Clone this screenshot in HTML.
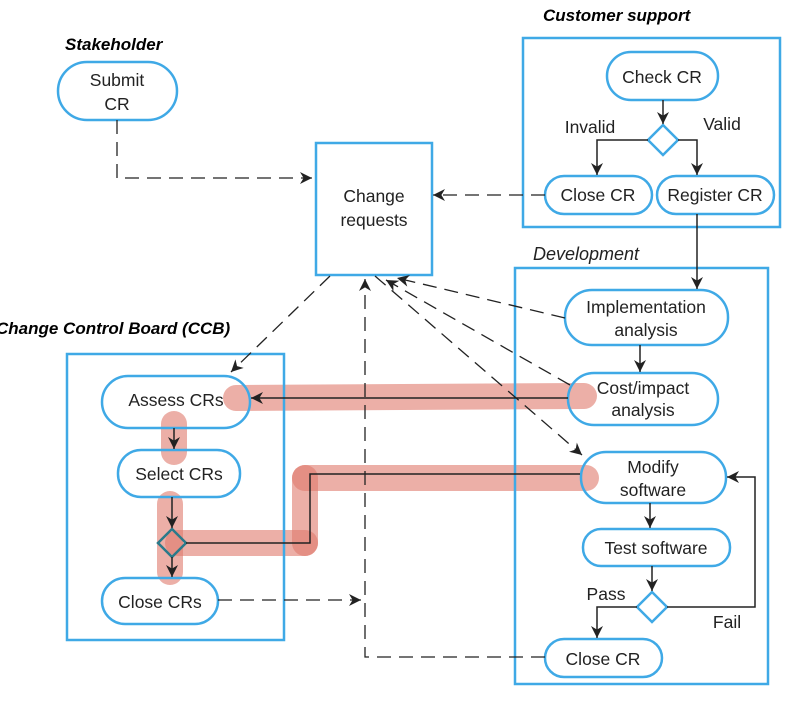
<!DOCTYPE html>
<html><head><meta charset="utf-8"><style>
html,body{margin:0;padding:0;background:#fff;}
svg{display:block;font-family:"Liberation Sans",sans-serif;}
</style></head><body>
<svg width="802" height="712" viewBox="0 0 802 712" xmlns="http://www.w3.org/2000/svg">
<defs>
<marker id="a" viewBox="0 0 10 10" refX="10" refY="5" markerWidth="12" markerHeight="12" orient="auto-start-reverse" markerUnits="userSpaceOnUse"><path d="M0,0 L10,5 L0,10 L3,5 z" fill="#222"/></marker>
</defs>
<g stroke="#e07a6c" stroke-opacity="0.6" stroke-width="26" stroke-linecap="round" fill="none">
<line x1="236" y1="398" x2="584" y2="396"/>
<line x1="174" y1="424" x2="174" y2="452"/>
<line x1="170" y1="504" x2="170" y2="572"/>
<line x1="178" y1="543" x2="305" y2="543"/>
<line x1="305" y1="543" x2="305" y2="478"/>
<line x1="305" y1="478" x2="586" y2="478"/>
</g>
<g fill="none" stroke="#3fa9e6" stroke-width="2.5">
<rect x="523" y="38" width="257" height="189"/>
<rect x="515" y="268" width="253" height="416"/>
<rect x="67" y="354" width="217" height="286"/>
<rect x="316" y="143" width="116" height="132"/>
<rect x="58" y="62" width="119" height="58" rx="29"/>
<rect x="607" y="52" width="111" height="48" rx="24"/>
<rect x="545" y="176" width="107" height="38" rx="19"/>
<rect x="657" y="176" width="117" height="38" rx="19"/>
<rect x="565" y="290" width="163" height="55" rx="27"/>
<rect x="568" y="373" width="150" height="52" rx="26"/>
<rect x="581" y="452" width="145" height="51" rx="25"/>
<rect x="583" y="529" width="147" height="37" rx="18"/>
<rect x="545" y="639" width="117" height="38" rx="19"/>
<rect x="102" y="376" width="148" height="52" rx="26"/>
<rect x="118" y="450" width="122" height="47" rx="23"/>
<rect x="102" y="578" width="116" height="46" rx="23"/>
<polygon points="663,125 678,140 663,155 648,140"/>
<polygon points="652,592 667,607 652,622 637,607"/>
</g>
<polygon points="172,529 186,543 172,557 158,543" fill="none" stroke="#2a7a8a" stroke-width="2.5"/>
<g fill="none" stroke="#222" stroke-width="1.5">
<line x1="663" y1="100" x2="663" y2="124" marker-end="url(#a)"/>
<polyline points="648,140 597,140 597,175" marker-end="url(#a)"/>
<polyline points="678,140 697,140 697,175" marker-end="url(#a)"/>
<line x1="697" y1="214" x2="697" y2="289" marker-end="url(#a)"/>
<line x1="640" y1="345" x2="640" y2="372" marker-end="url(#a)"/>
<line x1="650" y1="503" x2="650" y2="528" marker-end="url(#a)"/>
<line x1="652" y1="566" x2="652" y2="591" marker-end="url(#a)"/>
<polyline points="637,607 597,607 597,638" marker-end="url(#a)"/>
<polyline points="667,607 755,607 755,477 727,477" marker-end="url(#a)"/>
<line x1="568" y1="398" x2="251" y2="398" marker-end="url(#a)"/>
<line x1="174" y1="428" x2="174" y2="449" marker-end="url(#a)"/>
<line x1="172" y1="497" x2="172" y2="528" marker-end="url(#a)"/>
<line x1="172" y1="557" x2="172" y2="577" marker-end="url(#a)"/>
<polyline points="186,543 310,543 310,474 580,474"/>
</g>
<g fill="none" stroke="#222" stroke-width="1.3" stroke-dasharray="14,8">
<polyline points="117,120 117,178 312,178" marker-end="url(#a)"/>
<line x1="545" y1="195" x2="433" y2="195" marker-end="url(#a)"/>
<line x1="565" y1="318" x2="397" y2="278" marker-end="url(#a)"/>
<line x1="570" y1="385" x2="386" y2="280" marker-end="url(#a)"/>
<line x1="375" y1="276" x2="582" y2="455" marker-end="url(#a)"/>
<line x1="330" y1="276" x2="231" y2="372" marker-end="url(#a)"/>
<polyline points="545,657 365,657 365,279" marker-end="url(#a)"/>
<line x1="218" y1="600" x2="361" y2="600" marker-end="url(#a)"/>
</g>
<g font-weight="bold" font-style="italic" font-size="17" fill="#000">
<text x="65" y="50">Stakeholder</text>
<text x="543" y="21">Customer support</text>
<text x="-4" y="334">Change Control Board (CCB)</text>
</g>
<text x="533" y="260" font-style="italic" font-size="18" fill="#222">Development</text>
<g font-size="17.5" fill="#222" text-anchor="middle">
<text x="117" y="86">Submit</text><text x="117" y="110">CR</text>
<text x="374" y="202">Change</text><text x="374" y="226">requests</text>
<text x="662" y="83">Check CR</text>
<text x="598" y="201">Close CR</text>
<text x="715" y="201">Register CR</text>
<text x="646" y="313">Implementation</text><text x="646" y="336">analysis</text>
<text x="643" y="394">Cost/impact</text><text x="643" y="416">analysis</text>
<text x="653" y="473">Modify</text><text x="653" y="496">software</text>
<text x="656" y="554">Test software</text>
<text x="603" y="665">Close CR</text>
<text x="176" y="406">Assess CRs</text>
<text x="179" y="480">Select CRs</text>
<text x="160" y="608">Close CRs</text>
<text x="590" y="133">Invalid</text>
<text x="722" y="130">Valid</text>
<text x="606" y="600">Pass</text>
<text x="727" y="628">Fail</text>
</g>
</svg>
</body></html>
